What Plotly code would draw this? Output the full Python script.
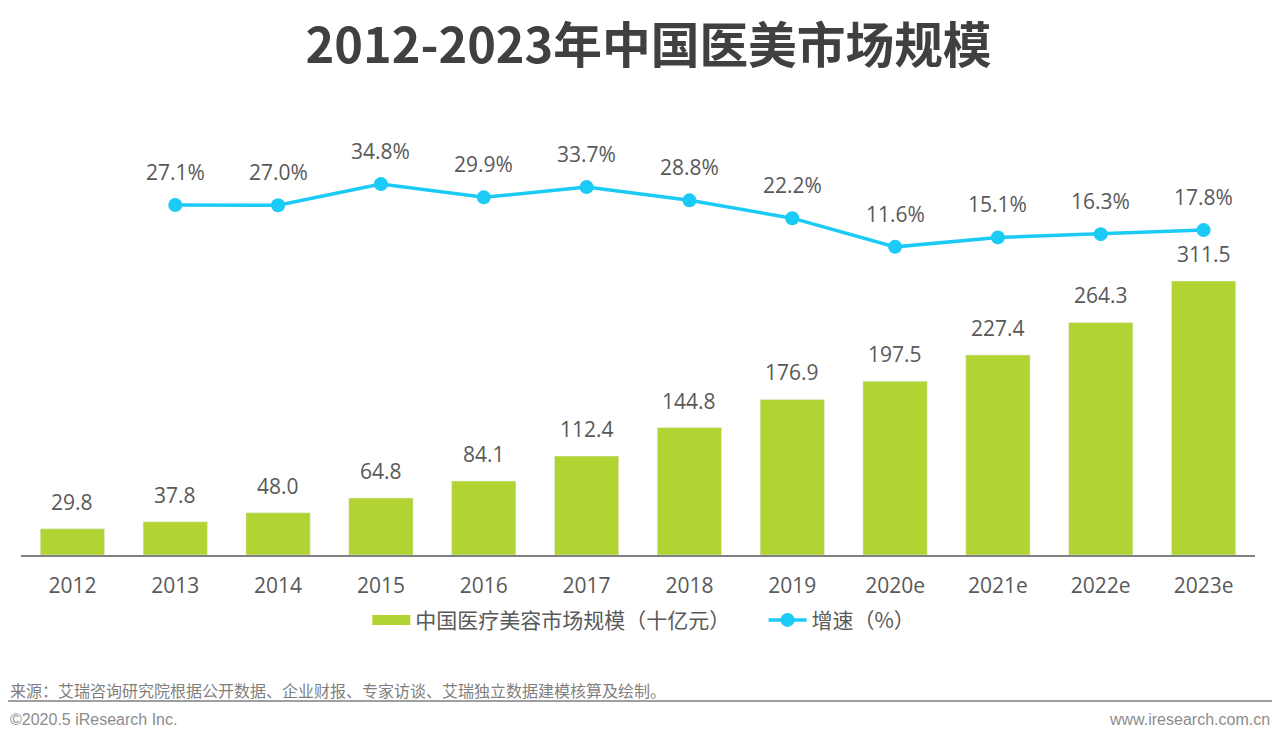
import plotly.graph_objects as go

years = ["2012", "2013", "2014", "2015", "2016", "2017", "2018", "2019", "2020e", "2021e", "2022e", "2023e"]
market = [29.8, 37.8, 48.0, 64.8, 84.1, 112.4, 144.8, 176.9, 197.5, 227.4, 264.3, 311.5]
growth_years = years[1:]
growth = [27.1, 27.0, 34.8, 29.9, 33.7, 28.8, 22.2, 11.6, 15.1, 16.3, 17.8]

font = "Open Sans, Noto Sans CJK SC"
cjk = "Noto Sans CJK SC"
grey = "#595959"
green = "#B2D432"
blue = "#1CCBF5"

fig = go.Figure()
fig.add_trace(go.Bar(x=years, y=market, marker_color=green, width=0.625, showlegend=False))
# legend-only line, gives the wide flat green swatch
fig.add_trace(go.Scatter(x=years, y=[None] * len(years), name="中国医疗美容市场规模（十亿元）" + "\u00a0" * 6, mode="lines",
                         line=dict(color=green, width=10)))
fig.add_trace(go.Scatter(x=growth_years, y=growth, name="增速（%）", yaxis="y2", mode="lines+markers",
                         line=dict(color=blue, width=3.5), marker=dict(color=blue, size=14), cliponaxis=False))

# annotations read "2012" as a number on a category axis, so place them by index
notes = []
for y, v in zip(years, market):
    notes.append(dict(x=years.index(y), y=v, xref="x", yref="y", text="%.1f" % v, showarrow=False, yshift=27,
                      font=dict(size=21, color=grey, family=font)))
for y, v in zip(growth_years, growth):
    notes.append(dict(x=years.index(y), y=v, xref="x", yref="y2", text="%.1f%%" % v, showarrow=False, yshift=33,
                      font=dict(size=21, color=grey, family=font)))
notes += [
    dict(text="来源：艾瑞咨询研究院根据公开数据、企业财报、专家访谈、艾瑞独立数据建模核算及绘制。", xref="paper", yref="paper",
         x=-0.0105, y=0.082, xanchor="left", yanchor="middle", showarrow=False, font=dict(size=16, color="#7F7F7F", family=cjk)),
    dict(text="©2020.5 iResearch Inc.", xref="paper", yref="paper", x=-0.0105, y=0.043, xanchor="left", yanchor="middle",
         showarrow=False, font=dict(size=16, color="#8C8C8C", family="Liberation Sans")),
    dict(text="www.iresearch.com.cn", xref="paper", yref="paper", x=1.0136, y=0.043, xanchor="right", yanchor="middle",
         showarrow=False, font=dict(size=16, color="#8C8C8C", family="Liberation Sans")),
]

fig.update_layout(
    width=1280, height=743, autosize=False, paper_bgcolor="white", plot_bgcolor="white",
    margin=dict(l=13, r=33, t=0, b=0), font=dict(family=font, color=grey),
    title=dict(text="<b>2012-2023年中国医美市场规模</b>", x=0.5004, xanchor="center", y=0.949, yanchor="middle",
               font=dict(size=48.7, color="#404040", family=cjk)),
    showlegend=True,
    legend=dict(orientation="h", x=0.5047, xanchor="center", y=0.176, yanchor="middle", itemwidth=38,
                font=dict(size=21, color=grey, family=cjk)),
    xaxis=dict(domain=[0, 1], anchor="y", type="category", categoryorder="array", categoryarray=years,
               range=[-0.5, 11.5], showgrid=False, ticks="", ticklabelstandoff=11, showline=True,
               linecolor="#808080", linewidth=1.5, tickfont=dict(size=21, color=grey)),
    yaxis=dict(domain=[0.2638, 0.6326], range=[0, 311.5], visible=False),
    yaxis2=dict(domain=[0.6654, 0.771], range=[8, 37], visible=False, anchor="x"),
    annotations=notes,
    shapes=[dict(type="line", xref="paper", yref="paper", x0=-0.013, x1=1.016, y0=0.0673, y1=0.0673,
                 line=dict(color="#7F7F7F", width=1.5))],
)
fig.write_html("out.html")
